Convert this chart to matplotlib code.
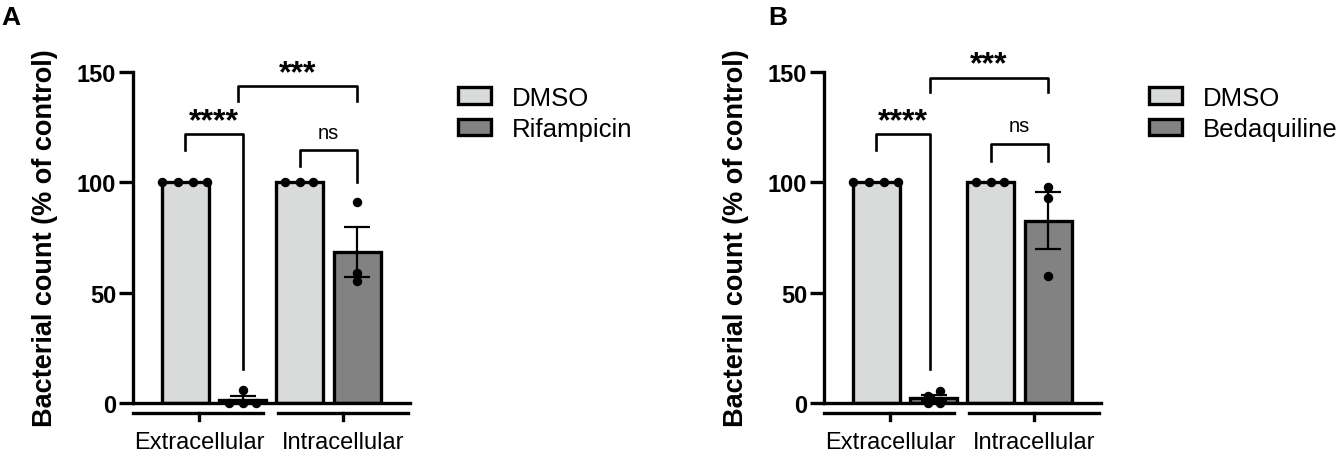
import numpy as np
import matplotlib
matplotlib.use("Agg")
import matplotlib.pyplot as plt
from matplotlib.patches import Patch

plt.rcParams['font.family'] = ['Liberation Sans', 'DejaVu Sans']

# data
groups = ['Extracellular', 'Intracellular']
drugs = ['Rifampicin', 'Bedaquiline']
dmso_ext = [100, 100, 100, 100]
dmso_int = [100, 100, 100]
rif_ext = [5.8, 0.2, 0.1, 0.0]
rif_int = [91.0, 59.0, 55.5]
bdq_ext = [5.4, 3.3, 0.1, 0.0]
bdq_int = [98.0, 92.7, 57.4]

# significance: (x1, x2, top, left leg, right leg, label)
sig_a = [(0, 1.0, 122, 114.5, 15.5, '****'),
         (0.92, 3, 143.6, 136.8, 136.8, '***'),
         (2, 3, 114.5, 107.3, 100, 'ns')]
sig_b = [(0, 0.93, 122, 114.5, 15.5, '****'),
         (0.93, 3, 147.5, 140.8, 140.8, '***'),
         (2, 3, 117.3, 109.7, 109.7, 'ns')]

# scatter spread of the points inside each bar
dx_a = [[-0.4, -0.13, 0.13, 0.38], [0, -0.23, 0, 0.23], [-0.26, 0, 0.23], [0, 0, 0]]
dx_b = [[-0.4, -0.13, 0.13, 0.38], [0.12, -0.1, -0.1, 0.12], [-0.26, 0, 0.23], [0, 0, 0]]

light = '#d9dada'
dark = '#828282'
lw = 2.4

fig = plt.figure(figsize=(13.42, 4.52), dpi=100)

def panel(left_px, drug, sets, dx, sig, letter, letter_x):
    ax = fig.add_axes([left_px/1342, 48/452, 277/1342, 331/452])
    pos = [0, 1, 2, 3]
    cols = [light, dark, light, dark]
    means = [np.mean(s) for s in sets]
    ax.bar(pos, means, width=0.82, color=cols, edgecolor='black', linewidth=lw, zorder=2)
    for i in [1, 3]:
        s = np.array(sets[i])
        sem = s.std(ddof=1)/np.sqrt(len(s))
        ax.errorbar(pos[i], means[i], yerr=sem, color='black', lw=1.6,
                    capsize=9.5, capthick=1.6, zorder=3, clip_on=False)
    for i, s in enumerate(sets):
        ax.plot(np.array(dx[i]) + pos[i], s, 'o', color='black', ms=5.8, zorder=4, clip_on=False)

    ax.set_xlim(-0.91, 3.92)
    ax.set_ylim(0, 150)
    for sp in ['top', 'right', 'bottom']:
        ax.spines[sp].set_visible(False)
    ax.spines['left'].set_linewidth(lw)
    ax.spines['left'].set_bounds(0, 150)
    ax.set_yticks([0, 50, 100, 150])
    ax.tick_params(axis='y', length=10, width=lw, pad=2, labelsize=17)
    for t in ax.get_yticklabels():
        t.set_fontweight('bold')
    ax.set_xticks([])
    # baseline at zero
    ax.plot([-0.91, 3.92], [0, 0], color='black', lw=lw, clip_on=False, zorder=5)
    # group lines with labels
    spans = [(-0.91, 1.36, 0.24), (1.62, 3.89, 2.76)]
    for (a, b, c), g in zip(spans, groups):
        ax.plot([a, b], [-4.5, -4.5], color='black', lw=lw, clip_on=False)
        ax.plot([c, c], [-4.5, -7.8], color='black', lw=lw, clip_on=False)
        ax.text(c, -20.6, g, ha='center', va='baseline', fontsize=17)

    ax.set_ylabel('Bacterial count (% of control)', fontsize=19.5, fontweight='bold')
    ax.yaxis.set_label_coords(-0.27, 0.5)

    for x1, x2, top, yl, yr, lab in sig:
        ax.plot([x1, x1, x2, x2], [yl, top, top, yr], color='black', lw=1.9, clip_on=False)
        if lab == 'ns':
            ax.text((x1+x2)/2, top + 4, lab, ha='center', va='bottom', fontsize=14.5)
        else:
            ax.text((x1+x2)/2, top - 1.0, lab, ha='center', va='bottom', fontsize=23, fontweight='bold')

    handles = [Patch(facecolor=light, edgecolor='black', lw=lw),
               Patch(facecolor=dark, edgecolor='black', lw=lw)]
    ax.legend(handles, ['DMSO', drug], loc='center left', bbox_to_anchor=(1.173, 0.875),
              frameon=False, fontsize=18.5, borderpad=0, borderaxespad=0,
              handlelength=1.3, handleheight=0.6, handletextpad=0.8, labelspacing=0.3)

    fig.text(letter_x/1342, 1 - 25/452, letter, fontsize=19, fontweight='bold', va='baseline')
    return ax

panel(133, drugs[0], [dmso_ext, rif_ext, dmso_int, rif_int], dx_a, sig_a, 'A', 1)
panel(824, drugs[1], [dmso_ext, bdq_ext, dmso_int, bdq_int], dx_b, sig_b, 'B', 768)

fig.savefig('out.png', dpi=100)
